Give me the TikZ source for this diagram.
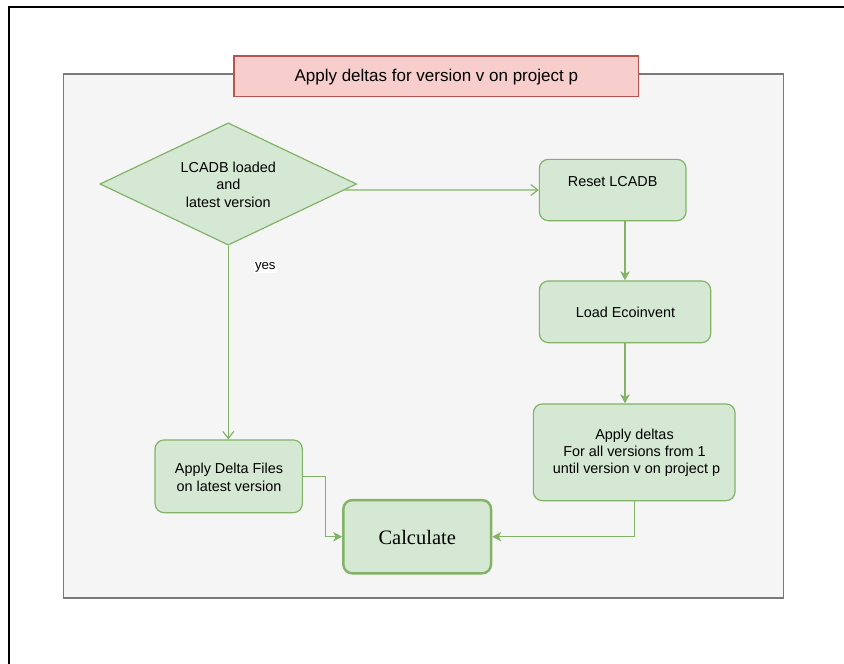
\documentclass[tikz,border=0pt]{standalone}
\usepackage{fontspec}
\setmainfont{Liberation Sans}
\newfontfamily\serifface{Liberation Serif}
\usetikzlibrary{shapes.geometric,arrows.meta,calc,backgrounds}

\definecolor{greenfill}{HTML}{D5E8D4}
\definecolor{greenline}{HTML}{82B366}
\definecolor{redfill}{HTML}{F8CECC}
\definecolor{redline}{HTML}{B85450}
\definecolor{grayfill}{HTML}{F5F5F5}
\definecolor{grayline}{HTML}{7A7A7A}

\tikzset{
  stepbox/.style={draw=greenline, fill=greenfill, line width=1.2pt,
    rounded corners=9pt, inner sep=0pt},
  decision/.style={diamond, draw=greenline, fill=greenfill, line width=1.2pt,
    inner sep=0pt},
  label text/.style={font=\fontsize{14.4}{17.2}\selectfont, align=center,
    inner sep=0pt, text=black},
  flow/.style={draw=greenline, line width=1.2pt},
  open arrow/.style={flow, -{Straight Barb[length=7pt,width=11pt,line width=1.2pt]}},
  filled arrow/.style={flow, -{Stealth[length=9pt,width=9.5pt,inset=2.5pt]}},
}

\begin{document}
\begin{tikzpicture}[x=1pt,y=-1pt]
  \useasboundingbox (0,0) rectangle (844,664);

  % page frame (top and left edges)
  \draw[line width=2.3pt, line cap=rect] (9,670) -- (9,6.8) -- (850,6.8);

  % container
  \node[draw=grayline, fill=grayfill, line width=1.3pt, inner sep=0pt,
        minimum width=720.2pt, minimum height=524pt] (frame) at (423.6,336) {};

  % title
  \node[draw=redline, fill=redfill, line width=1.2pt, inner sep=0pt,
        minimum width=404.7pt, minimum height=40.7pt] (title) at (436.3,76.3) {};
  \node[label text, font=\fontsize{17}{20}\selectfont] (titletext) at (436.3,77.5)
        {Apply deltas for version v on project p};

  % decision
  \node[decision, minimum width=256.7pt, minimum height=122.3pt] (dia) at (228.3,184) {};
  \node[label text] (diatext) at (228.3,184.7) {LCADB loaded\\and\\latest version};

  % process steps
  \node[stepbox, minimum width=146.7pt, minimum height=61.3pt] (reset) at (612.7,190) {};
  \node[label text] (resettext) at (612.7,182) {Reset LCADB};

  \node[stepbox, minimum width=171.3pt, minimum height=61.7pt] (load) at (625,311.8) {};
  \node[label text] (loadtext) at (625.5,312.3) {Load Ecoinvent};

  \node[stepbox, minimum width=201.7pt, minimum height=96.7pt] (ad) at (634.2,452.3) {};
  \node[label text] (adtext) at (634.5,452.8)
        {Apply deltas\\For all versions from 1\\\hspace*{4pt}until version v on project p};

  \node[stepbox, minimum width=147.3pt, minimum height=72.7pt] (adf) at (228.7,476.3) {};
  \node[label text] (adftext) at (229,477.3) {Apply Delta Files\\on latest version};

  \node[stepbox, line width=2.4pt, minimum width=147.7pt, minimum height=73.3pt]
        (calc) at (417.2,536.7) {};
  \node[label text, font=\serifface\fontsize{20.5}{24}\selectfont] (calctext)
        at (417.2,537.5) {Calculate};

  % connectors
  \coordinate (diaexit) at ($(dia.east)!0.0984!(dia.south)$);
  \draw[open arrow] (diaexit) -- (reset.west);

  \draw[open arrow] (dia.south) -- (dia.south |- adf.north);
  \node[fill=white, inner sep=0.6pt, font=\fontsize{13.2}{15}\selectfont]
        (yes) at (265.3,267) {yes};

  \draw[filled arrow] (load.north |- reset.south) -- (load.north);
  \draw[filled arrow] (load.south) -- (load.south |- ad.north);
  \draw[filled arrow] (ad.south) |- (calc.east);

  \coordinate (adfbend) at (325.7,476.3);
  \draw[filled arrow] (adf.east) -- (adfbend) |- (calc.west);
\end{tikzpicture}
\end{document}
